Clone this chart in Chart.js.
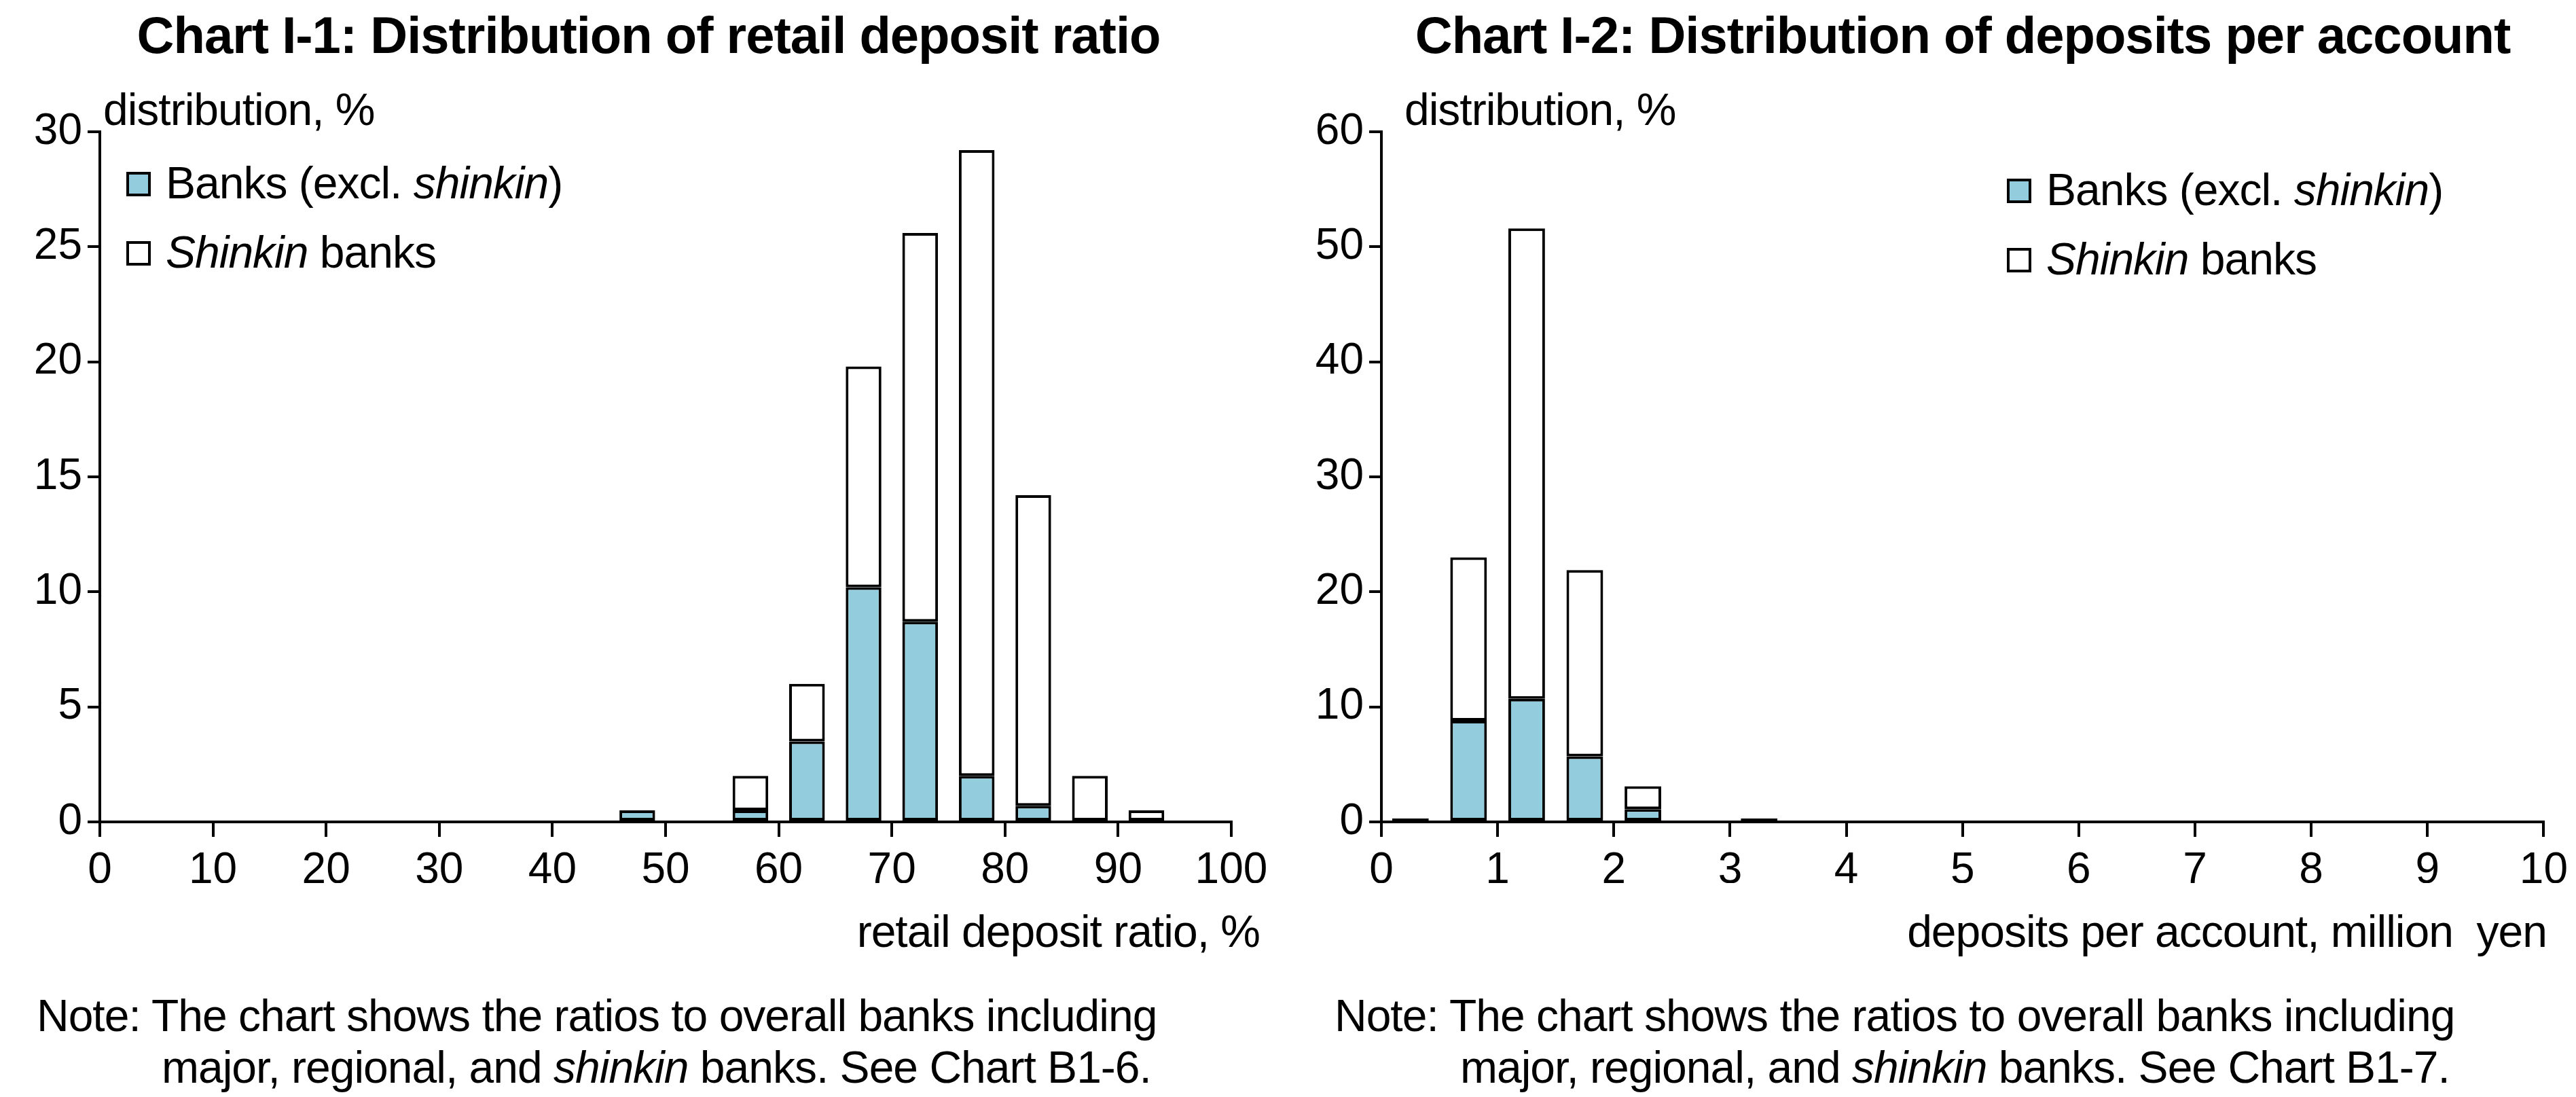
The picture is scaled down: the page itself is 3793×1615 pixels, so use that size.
<!DOCTYPE html>
<html><head><meta charset="utf-8">
<script src="https://cdn.jsdelivr.net/npm/chart.js@4"></script>
<style>
body{margin:0;background:#fff;width:3793px;height:1615px;position:relative;overflow:hidden;font-family:"Liberation Sans",sans-serif;color:#000}
.t{position:absolute;white-space:nowrap;font-size:66px;line-height:1;letter-spacing:-1px}
.title{font-weight:bold;font-size:76px;transform:translateX(-50%)}
.sq{display:inline-block;width:36px;height:36px;border:4px solid #000;box-sizing:border-box;margin-right:22px;vertical-align:middle;position:relative;top:-4px}
canvas{position:absolute;top:0}
</style></head><body>
<div style="position:absolute;left:0;top:0;width:1895px;height:1300px"><canvas id="c1"></canvas></div>
<div style="position:absolute;left:1895px;top:0;width:1898px;height:1300px"><canvas id="c2"></canvas></div>
<div class="t title" style="left:955px;top:14px">Chart I-1: Distribution of retail deposit ratio</div>
<div class="t title" style="left:2890px;top:14px">Chart I-2: Distribution of deposits per account</div>
<div class="t" style="left:152px;top:128px">distribution, %</div>
<div class="t" style="left:2068px;top:128px">distribution, %</div>
<div class="t" style="left:186px;top:236px"><span class="sq" style="background:#93CDDD"></span>Banks (excl. <i>shinkin</i>)</div>
<div class="t" style="left:186px;top:338px"><span class="sq" style="background:#fff"></span><i>Shinkin</i> banks</div>
<div class="t" style="left:2955px;top:246px"><span class="sq" style="background:#93CDDD"></span>Banks (excl. <i>shinkin</i>)</div>
<div class="t" style="left:2955px;top:348px"><span class="sq" style="background:#fff"></span><i>Shinkin</i> banks</div>
<div class="t" style="right:1938px;top:1338px">retail deposit ratio, %</div>
<div class="t" style="right:43px;top:1338px">deposits per account, million&nbsp; yen</div>
<div class="t" style="left:54px;top:1462px">Note: The chart shows the ratios to overall banks including</div>
<div class="t" style="left:238px;top:1538px">major, regional, and <i>shinkin</i> banks. See Chart B1-6.</div>
<div class="t" style="left:1965px;top:1462px">Note: The chart shows the ratios to overall banks including</div>
<div class="t" style="left:2150px;top:1538px">major, regional, and <i>shinkin</i> banks. See Chart B1-7.</div>
<script>
const ratioBins=[2.5,7.5,12.5,17.5,22.5,27.5,32.5,37.5,42.5,47.5,52.5,57.5,62.5,67.5,72.5,77.5,82.5,87.5,92.5,97.5];
const ratioBanks=[0,0,0,0,0,0,0,0,0,0.5,0,0.5,3.5,10.2,8.7,2.0,0.7,0,0,0];
const ratioShinkin=[0,0,0,0,0,0,0,0,0,0,0,1.5,2.5,9.6,16.9,27.2,13.5,2.0,0.5,0];
const depBins=[0.25,0.75,1.25,1.75,2.25,2.75,3.25,3.75,4.25,4.75,5.25,5.75,6.25,6.75,7.25,7.75,8.25,8.75,9.25,9.75];
const depBanks=[0.3,8.8,10.7,5.7,1.1,0,0,0,0,0,0,0,0,0,0,0,0,0,0,0];
const depShinkin=[0,14.2,40.9,16.2,2.0,0,0.3,0,0,0,0,0,0,0,0,0,0,0,0,0];
const ratioTicks=[0,10,20,30,40,50,60,70,80,90,100];
const depTicks=[0,1,2,3,4,5,6,7,8,9,10];

const FONT={family:'"Liberation Sans",sans-serif',size:64};
function mk(id,bins,b,s,ticks,ymax,ystep,padR,yw){
  const pts=a=>a.map((v,i)=>({x:bins[i],y:v===0?null:v}));
  const xmax=ticks[ticks.length-1];
  new Chart(document.getElementById(id),{type:'bar',
    data:{datasets:[
      {data:pts(b),backgroundColor:'#93CDDD',borderColor:'#000',borderWidth:4,categoryPercentage:1,barPercentage:0.63,borderSkipped:false},
      {data:pts(s),backgroundColor:'#fff',borderColor:'#000',borderWidth:4,categoryPercentage:1,barPercentage:0.63,borderSkipped:false}]},
    options:{responsive:true,maintainAspectRatio:false,animation:false,devicePixelRatio:1,
      layout:{padding:{top:194,right:padR,left:0,bottom:0}},
      plugins:{legend:{display:false},tooltip:{enabled:false}},
      scales:{
        x:{type:'linear',stacked:true,offset:false,min:0,max:xmax,afterBuildTicks:a=>{a.ticks=ticks.map(v=>({value:v}));},
          ticks:{color:'#000',font:FONT,padding:12,maxRotation:0},
          grid:{drawOnChartArea:false,offset:false,color:'#000',lineWidth:4,tickLength:22},
          border:{color:'#000',width:4},afterFit:a=>{a.height=90;}},
        y:{stacked:true,min:0,max:ymax,ticks:{stepSize:ystep,color:'#000',font:FONT,padding:8},
          grid:{drawOnChartArea:false,color:'#000',lineWidth:4,tickLength:18},
          border:{color:'#000',width:4},afterFit:a=>{a.width=yw;}}
      }}});
}
mk('c1',ratioBins,ratioBanks,ratioShinkin,ratioTicks,30,5,82,147);
mk('c2',depBins,depBanks,depShinkin,depTicks,60,10,40,139);
</script>
</body></html>
